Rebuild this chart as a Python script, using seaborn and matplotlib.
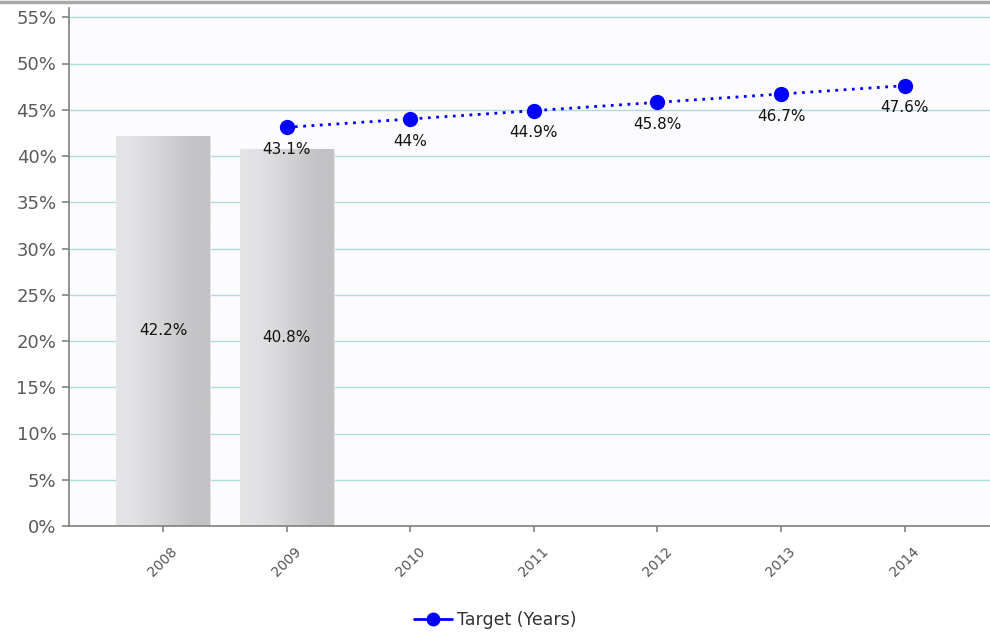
import numpy as np
import pandas as pd
import matplotlib
matplotlib.use("Agg")
import matplotlib.pyplot as plt
import seaborn as sns
from matplotlib.colors import LinearSegmentedColormap
from matplotlib.lines import Line2D

# ---- data ----
years = [2008, 2009, 2010, 2011, 2012, 2013, 2014]
actual_years = [2008, 2009]
actual_values = [42.2, 40.8]
target_years = [2009, 2010, 2011, 2012, 2013, 2014]
target_values = [43.1, 44.0, 44.9, 45.8, 46.7, 47.6]
y_ticks = [0, 5, 10, 15, 20, 25, 30, 35, 40, 45, 50, 55]
legend_label = "Target (Years)"

sns.set_theme(style="white")
plt.rcParams['font.family'] = ['DejaVu Sans']

fig = plt.figure(figsize=(9.9, 6.35), dpi=100)
ax = fig.add_axes([69/990, (635-526)/635, 1 - 69/990, (526-8)/635])
ax.set_facecolor("#fcfcff")

bar_df = pd.DataFrame({"year": actual_years, "value": actual_values})
line_df = pd.DataFrame({"year": target_years, "value": target_values, "series": legend_label})

sns.barplot(data=bar_df, x="year", y="value", native_scale=True, width=0.76,
            color="#d2d2d4", edgecolor="#e6e6e8", linewidth=0.8, ax=ax,
            saturation=1, zorder=2)

# gradient on bars
grad = np.linspace(0, 1, 256)
prof = 0.5 - 0.5 * np.cos(grad * np.pi)
img = np.tile(prof, (2, 1))
cmap = LinearSegmentedColormap.from_list("g", ["#e4e4e6", "#d4d4d6", "#c2c2c4"])
for p in list(ax.patches):
    x0, y0 = p.get_x(), p.get_y()
    w, h = p.get_width(), p.get_height()
    im = ax.imshow(img, extent=[x0, x0 + w, y0, y0 + h], cmap=cmap,
                   aspect="auto", zorder=2.5, origin="lower")
    im.set_clip_path(p)

for yr, v in zip(actual_years, actual_values):
    ax.text(yr, v / 2, f"{v:g}%", ha="center", va="center", fontsize=11,
            color="#111111", zorder=4)

sns.lineplot(data=line_df, x="year", y="value", hue="series", palette=["#0000ff"],
             linestyle=(0, (1, 2.0)), linewidth=2, marker="o", markersize=11,
             markeredgewidth=0, ax=ax, zorder=5, legend=False)

for yr, v in zip(target_years, target_values):
    ax.annotate(f"{v:g}%", (yr, v), xytext=(0, -16), textcoords="offset points",
                ha="center", va="center", fontsize=11, color="#111111", zorder=6)

ax.set_xlim(2008 - 0.76, 2008 + 6.69)
ax.set_ylim(0, 56)
ax.set_yticks(y_ticks)
ax.set_yticklabels([f"{t}%" for t in y_ticks], fontsize=13, color="#5a5a5a")
ax.set_xticks(years)
ax.set_xticklabels([str(y) for y in years], rotation=45, fontsize=10, color="#555555",
                   ha="center", va="top")
ax.tick_params(axis="x", which="major", length=4, color="#888888", pad=9, bottom=True)
ax.tick_params(axis="y", which="major", length=5, color="#888888", left=True, pad=4)
ax.yaxis.grid(True, color="#aedcdc", linewidth=1)
ax.set_axisbelow(True)
ax.set_xlabel("")
ax.set_ylabel("")
for s in ["top", "right"]:
    ax.spines[s].set_visible(False)
for s in ["left", "bottom"]:
    ax.spines[s].set_color("#808080")
    ax.spines[s].set_linewidth(1.2)

# legend
h = Line2D([0], [0], color="#0000ff", linestyle="-", linewidth=2, marker="o",
           markersize=10, markeredgewidth=0)
fig.legend([h], [legend_label], loc="center", bbox_to_anchor=(0.5, 1 - 620/635),
           frameon=False, fontsize=12.5, handlelength=2.2, labelcolor="#333333",
           handletextpad=0.3)

# top border line
fig.add_artist(plt.Line2D([0, 1], [1 - 2/635, 1 - 2/635], color="#a8a8a8", linewidth=2.5,
                          transform=fig.transFigure))

fig.savefig("out.png", dpi=100)
